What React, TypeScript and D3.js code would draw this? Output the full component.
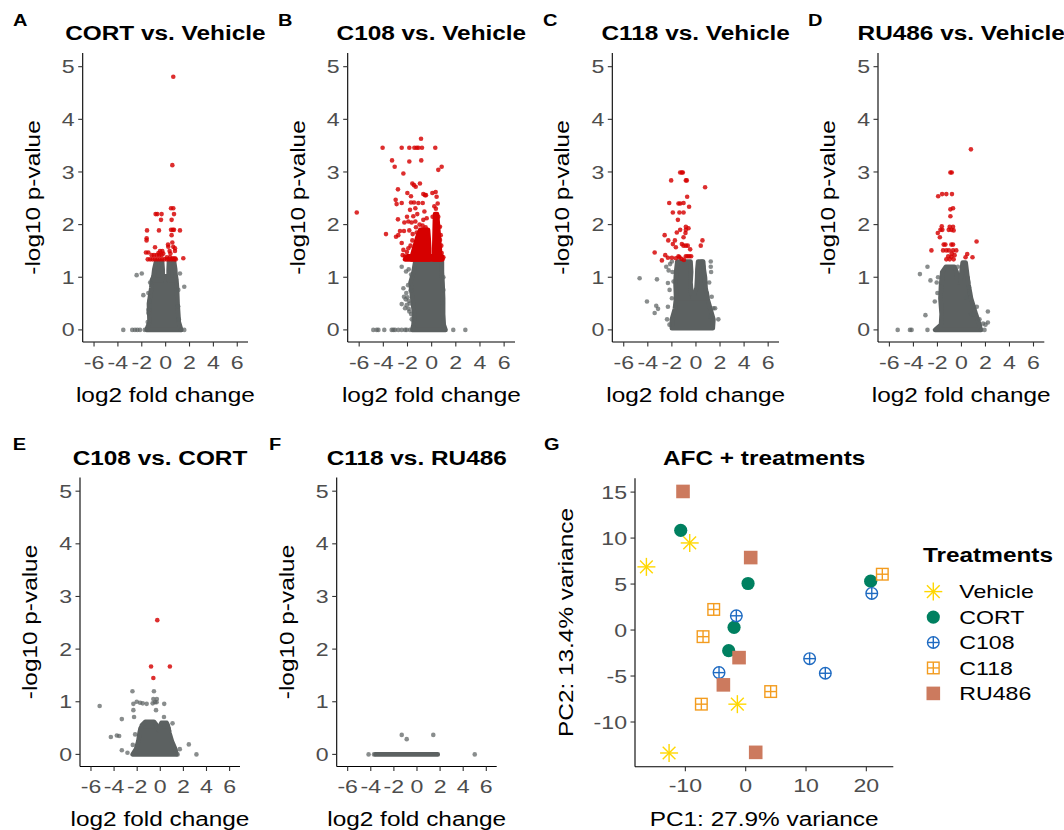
import React from 'react';
import * as d3 from 'd3';

type P = [number, number];
type Row = [number, number, number];

// ---------- axis ticks ----------
const volcanoXTicks = [-6, -4, -2, 0, 2, 4, 6];
const volcanoYTicks = [0, 1, 2, 3, 4, 5];
const pcaXTicks = [-10, 0, 10, 20];
const pcaYTicks = [-10, -5, 0, 5, 10, 15];

// ---------- Panel A: CORT vs. Vehicle ----------
const redA: P[] = [
  [0.64, 4.81], [0.56, 3.13], [0.45, 2.31], [0.64, 2.31], [0.7, 2.2], [-0.84, 2.2], [-0.7, 2.2], [-0.34, 2.2],
  [-0.39, 2.09], [0.5, 2.09], [-1.56, 1.89], [-0.56, 1.89], [0.45, 1.9], [0.6, 1.9], [0.7, 1.9], [1.2, 1.89],
  [-1.59, 1.74], [-1.6, 1.7], [0.5, 1.8], [0.56, 1.66], [0.22, 1.58], [0.64, 1.58], [-0.89, 1.57], [0.33, 1.5],
  [0.78, 1.5], [-0.47, 1.5], [-0.28, 1.5], [-1.65, 1.47], [-1.45, 1.47], [-1.17, 1.42], [-0.98, 1.42], [-0.75, 1.42],
  [-0.53, 1.42], [-0.34, 1.42], [0.1, 1.38], [0.36, 1.38], [0.59, 1.36], [0.78, 1.36], [1.48, 1.36], [-1.5, 1.34],
  [-1.3, 1.34], [-1.1, 1.34], [-0.9, 1.34], [-0.7, 1.34], [-0.5, 1.34], [-0.3, 1.34], [-0.1, 1.34], [0.1, 1.34],
  [0.3, 1.34], [0.5, 1.34], [0.7, 1.34], [0.85, 1.34], [0.78, 1.55], [0.2, 1.62], [0.4, 1.45], [-0.6, 1.46], [-0.2, 1.45],
];
const grayA: P[] = [
  [-2.43, 1.04], [-2.0, 1.07], [-1.87, 0.66], [1.56, 0.82], [-1.45, 0.38], [-1.45, 0.32], [-3.55, 0], [-2.8, 0],
  [-2.57, 0], [-2.37, 0], [-2.15, 0], [1.56, 0], [1.2, 1.07], [1.06, 0.76], [-1.3, 0.9], [-1.35, 0.55], [-1.75, 0], [1.3, 0],
  [-1.45, 0.7], [1.05, 0.45], [1.1, 0.2], [-1.5, 0.15],
];
const coreA: Row[][] = [
  [[0, -1.6, 1.3], [0.15, -1.35, 1.1], [0.5, -1.4, 1.0], [0.8, -1.2, 0.95], [0.95, -1.15, 0.9], [1.02, -1.0, 0.85]],
  [[0.95, -1.05, -0.25], [1.15, -0.95, -0.25], [1.3, -0.8, -0.3]],
  [[0.95, 0.25, 0.85], [1.15, 0.25, 0.8], [1.3, 0.28, 0.7]],
];
const redCoreA: Row[][] = [];

// ---------- Panel B: C108 vs. Vehicle ----------
const redB: P[] = [
  [-6.2, 2.23], [-4.06, 3.46], [-3.78, 1.82], [-3.28, 3.22], [-3.06, 3.1], [-2.48, 3.46], [-1.85, 3.46], [-1.43, 3.46],
  [-1.24, 3.46], [-1.1, 3.46], [-0.8, 3.46], [-0.88, 3.63], [0.3, 3.46], [-0.86, 3.22], [-1.85, 3.2], [-2.34, 2.97],
  [0.83, 3.1], [0.55, 3.04], [-2.79, 2.67], [-2.98, 2.47], [-2.48, 2.41], [-1.6, 2.78], [-1.46, 2.75], [-1.32, 2.72],
  [-0.97, 2.78], [-2.01, 2.6], [-1.71, 2.54], [-0.69, 2.58], [-0.55, 2.56], [-0.47, 2.56], [0.06, 2.6], [0.33, 2.62],
  [0.41, 2.53], [-1.71, 2.42], [-1.46, 2.42], [-1.1, 2.41], [-0.74, 2.41], [0.22, 2.35], [-1.79, 2.28], [-1.35, 2.31],
  [-2.9, 2.39], [-2.04, 2.15], [-1.52, 2.16], [-1.19, 2.2], [-0.69, 2.09], [-0.41, 2.12], [-2.79, 2.1], [-2.26, 2.04],
  [-1.93, 2.06], [-1.66, 2.04], [-1.35, 2.06], [0.08, 2.15], [0.36, 2.15], [0.55, 2.15], [0.55, 1.96], [0.69, 1.96],
  [-2.62, 1.88], [-2.29, 1.88], [-1.85, 1.89], [-1.57, 1.82], [-1.24, 1.85], [-2.95, 1.77], [-2.76, 1.8], [-2.48, 1.65],
  [-2.34, 1.52], [-1.93, 1.55], [-2.4, 1.42], [-2.2, 1.4], [0.69, 1.71], [0.83, 1.46], [0.97, 1.38],
  [-1.0, 2.0], [-0.75, 1.98], [-0.5, 1.95], [-1.3, 1.95], [-0.6, 2.25], [0.35, 2.3], [0.5, 2.4], [0.75, 1.8],
  [0.8, 1.6], [-1.6, 1.7], [-1.75, 1.6], [-2.05, 1.48],
];
const grayB: P[] = [
  [-2.48, 1.2], [-2.12, 1.11], [-2.34, 0.79], [-2.29, 0.63], [-2.48, 0.49], [-2.07, 0.47], [-2.2, 0.41], [-1.85, 0.35],
  [0.97, 1.0], [0.97, 0.76], [0.92, 0.51], [-2.0, 0.62], [-1.9, 0.55], [-2.1, 0.7], [-1.95, 0.85], [-2.15, 0.58],
  [-1.9, 0.4], [-1.7, 0.3], [-1.8, 0.5], [-1.75, 0.75], [-1.7, 1.05], [-1.9, 1.15], [-1.65, 0.2],
  [-4.83, 0], [-4.55, 0], [-4.41, 0], [-3.92, 0], [-3.31, 0], [-3.17, 0], [-3.03, 0], [-2.76, 0], [-2.48, 0],
  [-2.2, 0], [-2.07, 0], [-1.79, 0], [1.79, 0], [2.79, 0],
];
const coreB: Row[][] = [
  [[0, -1.6, 1.15], [0.1, -1.5, 1.0], [0.3, -1.45, 0.95], [0.6, -1.6, 0.95], [0.9, -1.75, 0.9], [1.1, -1.5, 0.85], [1.3, -1.35, 0.85]],
];
const redCoreB: Row[][] = [
  [[1.34, -2.2, 0.9], [1.4, -2.0, 0.85]],
  [[1.34, -1.7, -0.2], [1.55, -1.45, -0.2], [1.75, -1.2, -0.25], [1.9, -0.95, -0.3]],
  [[1.34, 0.2, 0.75], [1.6, 0.22, 0.65], [1.9, 0.25, 0.55], [2.2, 0.28, 0.45]],
];

// ---------- Panel C: C118 vs. Vehicle ----------
const redC: P[] = [
  [-1.31, 2.99], [-1.17, 2.99], [-1.09, 2.99], [-2.06, 2.84], [-0.84, 2.84], [-0.76, 2.84], [0.76, 2.71], [-0.73, 2.53],
  [-2.22, 2.41], [-1.45, 2.4], [-1.31, 2.4], [-1.03, 2.41], [-0.57, 2.34], [-1.92, 2.23], [-1.37, 2.23], [-1.03, 2.23],
  [-1.5, 2.09], [-0.84, 1.96], [-0.62, 1.93], [-0.84, 1.9], [-1.31, 1.9], [-1.59, 1.85], [-0.87, 1.84], [-2.6, 1.8],
  [-1.03, 1.76], [-2.3, 1.7], [-1.75, 1.7], [-1.92, 1.63], [-1.67, 1.57], [-1.17, 1.63], [-1.03, 1.6], [-0.84, 1.6],
  [-0.68, 1.6], [0.54, 1.7], [0.4, 1.6], [-0.48, 1.53], [-3.43, 1.47], [-2.55, 1.42], [-2.33, 1.37], [-2.0, 1.37],
  [-1.67, 1.36], [-2.83, 1.32], [-1.45, 1.4], [-1.37, 1.38], [-0.84, 1.4], [-0.7, 1.4], [-0.55, 1.4], [-0.4, 1.4],
  [-1.2, 1.35], [-1.0, 1.33],
];
const grayC: P[] = [
  [-4.68, 0.98], [-3.24, 0.96], [-4.07, 0.54], [-3.3, 0.46], [-3.43, 0.32], [-3.15, 0.4], [-2.33, 0.44], [-2.33, 0.89],
  [-2.19, 0.76], [-2.47, 1.2], [-2.27, 1.13], [-1.86, 0.92], [1.23, 1.3], [1.23, 1.2], [1.26, 1.1], [1.31, 0.63],
  [1.45, 0.41], [1.59, 0.41], [1.86, 0.2], [0.62, 1.2], [-2.0, 1.3], [-2.15, 1.25], [0.5, 1.3], [0.35, 1.28],
  [-2.2, 0.1], [-2.4, 0.2], [-1.95, 1.1], [-2.0, 0.6], [1.1, 0.9], [1.2, 0.25],
];
const coreC: Row[][] = [
  [[0.03, -2.0, 1.4], [0.2, -2.0, 1.45], [0.4, -1.75, 1.2], [0.6, -1.65, 0.95], [0.7, -1.6, 0.9]],
  [[0.6, -1.65, -0.35], [0.9, -1.7, -0.45], [1.1, -1.65, -0.4], [1.3, -1.55, -0.45]],
  [[0.6, -0.3, 0.95], [0.8, 0.05, 0.8], [1.0, 0.1, 0.75], [1.15, 0.12, 0.65], [1.3, 0.18, 0.6]],
];
const redCoreC: Row[][] = [];

// ---------- Panel D: RU486 vs. Vehicle ----------
const redD: P[] = [
  [0.79, 3.43], [-0.92, 2.99], [-0.81, 2.99], [-1.94, 2.54], [-1.61, 2.58], [-1.26, 2.58], [-0.79, 2.58], [-0.7, 2.31],
  [-0.92, 2.29], [-0.92, 2.16], [-1.64, 1.97], [-0.98, 1.96], [-0.7, 1.96], [-1.97, 1.84], [-1.75, 1.9], [-1.8, 1.76],
  [-1.59, 1.9], [-0.65, 1.89], [-1.06, 1.9], [-0.84, 1.9], [1.26, 1.68], [-1.48, 1.62], [-1.34, 1.62], [-0.84, 1.62],
  [-0.7, 1.62], [-2.5, 1.51], [-1.53, 1.51], [-1.26, 1.51], [-1.04, 1.51], [-0.7, 1.51], [-0.43, 1.51], [0.48, 1.44],
  [0.34, 1.38], [0.92, 1.38], [-1.26, 1.34], [-0.98, 1.34], [-0.84, 1.39], [-0.65, 1.34], [-0.81, 1.45], [-0.57, 1.42],
  [-1.1, 1.4],
];
const grayD: P[] = [
  [-2.83, 1.2], [-3.46, 1.06], [-2.58, 0.94], [-2.06, 0.9], [-2.22, 0.54], [-3.0, 0.28], [0.4, 0.62], [0.62, 0.81],
  [0.7, 0.7], [1.28, 0.44], [2.2, 0.35], [2.2, 0.14], [1.8, 0.12], [2.0, 0.1], [1.5, 0.2], [-5.31, 0], [-4.29, 0],
  [-4.15, 0], [-2.83, 0], [1.64, 0], [1.92, 0], [-1.95, 1.0], [-2.0, 0.7], [0.8, 0.3], [1.0, 0.3], [-0.3, 1.2],
];
const coreD: Row[][] = [
  [[0, -2.2, 1.6], [0.1, -1.7, 1.5], [0.3, -1.65, 1.2], [0.6, -1.75, 0.8], [0.85, -1.7, 0.6], [1.0, -1.6, 0.5]],
  [[0.9, -1.65, -0.35], [1.1, -1.6, -0.4], [1.2, -1.3, -0.6]],
  [[0.9, -0.1, 0.55], [1.1, 0.0, 0.45], [1.28, 0.1, 0.35]],
];
const redCoreD: Row[][] = [];

// ---------- Panel E: C108 vs. CORT ----------
const redE: P[] = [[-0.26, 2.55], [-0.8, 1.67], [0.83, 1.67], [-0.6, 1.45]];
const grayE: P[] = [
  [-5.25, 0.92], [-2.41, 1.2], [-0.55, 1.2], [-2.33, 0.96], [-2.04, 1.0], [-1.75, 0.98], [-1.52, 0.97], [-1.18, 0.96],
  [-0.66, 0.97], [-0.46, 0.99], [-0.32, 0.99], [0.34, 0.96], [-0.6, 1.05], [-0.3, 1.05], [-0.37, 0.84], [-2.33, 0.84],
  [-2.27, 0.71], [-3.33, 0.67], [-4.28, 0.33], [-3.76, 0.36], [-3.56, 0.35], [-3.33, 0.08], [-2.84, 0.03], [0.32, 0.71],
  [1.06, 0.59], [2.47, 0.19], [1.69, 0.1], [3.13, 0], [1.5, 0], [-2.18, 0.38], [-2.38, 0.18],
];
const coreE: Row[][] = [
  [[0, -2.4, 1.4], [0.1, -2.1, 1.3], [0.25, -1.9, 1.0], [0.4, -1.8, 0.8], [0.5, -1.7, 0.7]],
  [[0.45, -1.7, -0.2], [0.55, -1.6, -0.3], [0.62, -1.3, -0.55]],
  [[0.45, -0.1, 0.75], [0.55, 0.0, 0.65], [0.6, 0.1, 0.55]],
];
const redCoreE: Row[][] = [];

// ---------- Panel F: C118 vs. RU486 ----------
const redF: P[] = [];
const grayF: P[] = [[-4.19, 0], [-3.72, 0], [5.0, 0], [-1.32, 0.37], [-0.89, 0.29], [1.41, 0.37]];
const coreF: Row[][] = [[[0, -3.6, 1.8], [0, -3.6, 1.8]]];
const redCoreF: Row[][] = [];

// ---------- Panel G: PCA ----------
const treatments = ['Vehicle', 'CORT', 'C108', 'C118', 'RU486'];
const pcaVehicle: P[] = [[-16.46, 6.87], [-9.28, 9.47], [-1.38, -8.06], [-12.7, -13.37]];
const pcaCORT: P[] = [[-10.77, 10.84], [0.39, 5.06], [-1.93, 0.29], [-2.82, -2.24], [20.72, 5.31]];
const pcaC108: P[] = [[-1.55, 1.55], [-4.42, -4.63], [10.6, -3.11], [13.2, -4.7], [20.9, 3.98]];
const pcaC118: P[] = [[-5.3, 2.24], [-7.07, -0.72], [-7.35, -8.06], [4.14, -6.69], [22.65, 6.07]];
const pcaRU486: P[] = [[-10.39, 15.07], [0.83, 7.88], [-1.1, -3.0], [-3.7, -5.96], [1.66, -13.3]];
const pcaGroups = [pcaVehicle, pcaCORT, pcaC108, pcaC118, pcaRU486];
const treatColors = ['#FFD700', '#008060', '#1F6BC2', '#F39C1F', '#CC7A5E'];

// ---------- styling ----------
const FONT = "'Liberation Sans', Arial, Helvetica, sans-serif";
const SX = 1.25;
const GRAY = '#5c6161';
const RED = '#d60000';
const TICK_COL = '#4d4d4d';

const fmt = (v: number) => String(v);

function Txt(props: {
  x: number; y: number; children: React.ReactNode; size?: number; anchor?: string;
  weight?: string; fill?: string; rot?: number;
}) {
  const { x, y, children, size = 18.5, anchor = 'middle', weight = 'normal', fill = '#000', rot = 0 } = props;
  return (
    <text
      transform={`translate(${x},${y}) rotate(${rot}) scale(${SX},1)`}
      textAnchor={anchor as any}
      fontSize={size}
      fontWeight={weight}
      fill={fill}
      fontFamily={FONT}
    >
      {children}
    </text>
  );
}

type VCfg = {
  tag: string; title: string; left: number; right: number; top: number; bottom: number;
  tagX: number; tagY: number; titleY: number;
  red: P[]; gray: P[]; core: Row[][]; redCore: Row[][];
};

const volcanoPanels: VCfg[] = [
  { tag: 'A', title: 'CORT vs. Vehicle', left: 82.7, right: 248, top: 53, bottom: 342, tagX: 13, tagY: 26, titleY: 40, red: redA, gray: grayA, core: coreA, redCore: redCoreA },
  { tag: 'B', title: 'C108 vs. Vehicle', left: 347.7, right: 515, top: 53, bottom: 342, tagX: 278, tagY: 26, titleY: 40, red: redB, gray: grayB, core: coreB, redCore: redCoreB },
  { tag: 'C', title: 'C118 vs. Vehicle', left: 612.3, right: 779, top: 53, bottom: 342, tagX: 543, tagY: 26, titleY: 40, red: redC, gray: grayC, core: coreC, redCore: redCoreC },
  { tag: 'D', title: 'RU486 vs. Vehicle', left: 878, right: 1044.3, top: 53, bottom: 342, tagX: 808, tagY: 26, titleY: 40, red: redD, gray: grayD, core: coreD, redCore: redCoreD },
  { tag: 'E', title: 'C108 vs. CORT', left: 80, right: 240, top: 477.5, bottom: 766.5, tagX: 12.7, tagY: 450, titleY: 465, red: redE, gray: grayE, core: coreE, redCore: redCoreE },
  { tag: 'F', title: 'C118 vs. RU486', left: 336.7, right: 496.7, top: 477.5, bottom: 766.5, tagX: 269, tagY: 450, titleY: 465, red: redF, gray: grayF, core: coreF, redCore: redCoreF },
];

function Tag({ x, y, children }: { x: number; y: number; children: React.ReactNode }) {
  return (
    <text transform={`translate(${x},${y}) scale(${SX},1)`} fontSize={16} fontWeight="bold" fontFamily={FONT}>
      {children}
    </text>
  );
}

function Volcano({ c }: { c: VCfg }) {
  const xs = d3.scaleLinear().domain([-6.95, 6.9]).range([c.left, c.right]);
  const ys = d3.scaleLinear().domain([-0.23, 5.26]).range([c.bottom, c.top]);
  const area = d3.area<Row>().y((d) => ys(d[0])).x0((d) => xs(d[1])).x1((d) => xs(d[2]));
  const r = 2.3;
  return (
    <g>
      <Tag x={c.tagX} y={c.tagY}>{c.tag}</Tag>
      <Txt x={(c.left + c.right) / 2} y={c.titleY} size={19.5} weight="bold">{c.title}</Txt>
      {c.core.map((lobe, i) => (
        <path key={'c' + i} d={area(lobe) || ''} fill={GRAY} stroke={GRAY} strokeWidth={2 * r} strokeLinejoin="round" strokeLinecap="round" />
      ))}
      {c.gray.map((d, i) => (
        <circle key={'g' + i} cx={xs(d[0])} cy={ys(d[1])} r={r} fill={GRAY} fillOpacity={0.72} />
      ))}
      {c.redCore.map((lobe, i) => (
        <path key={'rc' + i} d={area(lobe) || ''} fill={RED} stroke={RED} strokeWidth={2 * r} strokeLinejoin="round" strokeLinecap="round" />
      ))}
      {c.red.map((d, i) => (
        <circle key={'r' + i} cx={xs(d[0])} cy={ys(d[1])} r={r} fill={RED} fillOpacity={0.82} />
      ))}
      <line x1={c.left} x2={c.left} y1={c.top} y2={c.bottom} stroke="#000" strokeWidth={1.1} />
      <line x1={c.left} x2={c.right} y1={c.bottom} y2={c.bottom} stroke="#000" strokeWidth={1.1} />
      {volcanoYTicks.map((t) => (
        <g key={'yt' + t}>
          <line x1={c.left - 4.5} x2={c.left} y1={ys(t)} y2={ys(t)} stroke="#333" strokeWidth={1.1} />
          <Txt x={c.left - 8} y={ys(t) + 6.6} anchor="end" fill={TICK_COL}>{fmt(t)}</Txt>
        </g>
      ))}
      {volcanoXTicks.map((t) => (
        <g key={'xt' + t}>
          <line x1={xs(t)} x2={xs(t)} y1={c.bottom} y2={c.bottom + 4.5} stroke="#333" strokeWidth={1.1} />
          <Txt x={xs(t)} y={c.bottom + 26.5} fill={TICK_COL}>{fmt(t)}</Txt>
        </g>
      ))}
      <Txt x={(c.left + c.right) / 2} y={c.bottom + 59.7} size={19.5}>log2 fold change</Txt>
      <Txt x={c.left - 43} y={(c.top + c.bottom) / 2} size={19.5} rot={-90}>-log10 p-value</Txt>
    </g>
  );
}

function Marker({ kind, x, y, color }: { kind: number; x: number; y: number; color: string }) {
  if (kind === 0) {
    const h = 9;
    const angles = [0, 45, 90, 135];
    return (
      <g>
        {angles.map((a) => {
          const dx = h * Math.cos((a * Math.PI) / 180);
          const dy = h * Math.sin((a * Math.PI) / 180);
          return <line key={a} x1={x - dx} y1={y - dy} x2={x + dx} y2={y + dy} stroke={color} strokeWidth={1.4} />;
        })}
      </g>
    );
  }
  if (kind === 1) return <circle cx={x} cy={y} r={6.6} fill={color} />;
  if (kind === 2) {
    const rr = 5.8;
    return (
      <g fill="none" stroke={color} strokeWidth={1.4}>
        <circle cx={x} cy={y} r={rr} />
        <line x1={x - rr} x2={x + rr} y1={y} y2={y} />
        <line x1={x} x2={x} y1={y - rr} y2={y + rr} />
      </g>
    );
  }
  if (kind === 3) {
    const s = 5.8;
    return (
      <g fill="none" stroke={color} strokeWidth={1.4}>
        <rect x={x - s} y={y - s} width={2 * s} height={2 * s} />
        <line x1={x - s} x2={x + s} y1={y} y2={y} />
        <line x1={x} x2={x} y1={y - s} y2={y + s} />
      </g>
    );
  }
  const s = 6.8;
  return <rect x={x - s} y={y - s} width={2 * s} height={2 * s} fill={color} />;
}

function PCA() {
  const left = 635, right = 893.3, top = 478.3, bottom = 766.7;
  const xs = d3.scaleLinear().domain([-18.35, 24.47]).range([left, right]);
  const ys = d3.scaleLinear().domain([-14.86, 16.5]).range([bottom, top]);
  const legendY = d3.scaleLinear().domain([0, 4]).range([591.6, 693.4]);
  return (
    <g>
      <Tag x={544} y={450}>G</Tag>
      <Txt x={(left + right) / 2} y={465} size={19.5} weight="bold">AFC + treatments</Txt>
      {pcaGroups.map((g, gi) =>
        g.map((d, i) => <Marker key={gi + '-' + i} kind={gi} x={xs(d[0])} y={ys(d[1])} color={treatColors[gi]} />)
      )}
      <line x1={left} x2={left} y1={top} y2={bottom} stroke="#000" strokeWidth={1.1} />
      <line x1={left} x2={right} y1={bottom} y2={bottom} stroke="#000" strokeWidth={1.1} />
      {pcaYTicks.map((t) => (
        <g key={'y' + t}>
          <line x1={left - 4.5} x2={left} y1={ys(t)} y2={ys(t)} stroke="#333" strokeWidth={1.1} />
          <Txt x={left - 8} y={ys(t) + 6.6} anchor="end" fill={TICK_COL}>{fmt(t)}</Txt>
        </g>
      ))}
      {pcaXTicks.map((t) => (
        <g key={'x' + t}>
          <line x1={xs(t)} x2={xs(t)} y1={bottom} y2={bottom + 4.5} stroke="#333" strokeWidth={1.1} />
          <Txt x={xs(t)} y={bottom + 25.5} fill={TICK_COL}>{fmt(t)}</Txt>
        </g>
      ))}
      <Txt x={(left + right) / 2} y={bottom + 59} size={19.5}>PC1: 27.9% variance</Txt>
      <Txt x={left - 62} y={(top + bottom) / 2} size={19.5} rot={-90}>PC2: 13.4% variance</Txt>
      <Txt x={923} y={561.7} size={19.5} weight="bold" anchor="start">Treatments</Txt>
      {treatments.map((t, i) => (
        <g key={t}>
          <Marker kind={i} x={933.3} y={legendY(i)} color={treatColors[i]} />
          <Txt x={959.3} y={legendY(i) + 6.7} anchor="start">{t}</Txt>
        </g>
      ))}
    </g>
  );
}

export default function App() {
  return (
    <svg
      width={1064}
      height={830}
      viewBox="0 0 1064 830"
      style={{ position: 'absolute', left: 0, top: 0, background: '#fff', display: 'block' }}
    >
      <rect x={0} y={0} width={1064} height={830} fill="#fff" />
      {volcanoPanels.map((c) => (
        <Volcano key={c.tag} c={c} />
      ))}
      <PCA />
    </svg>
  );
}
